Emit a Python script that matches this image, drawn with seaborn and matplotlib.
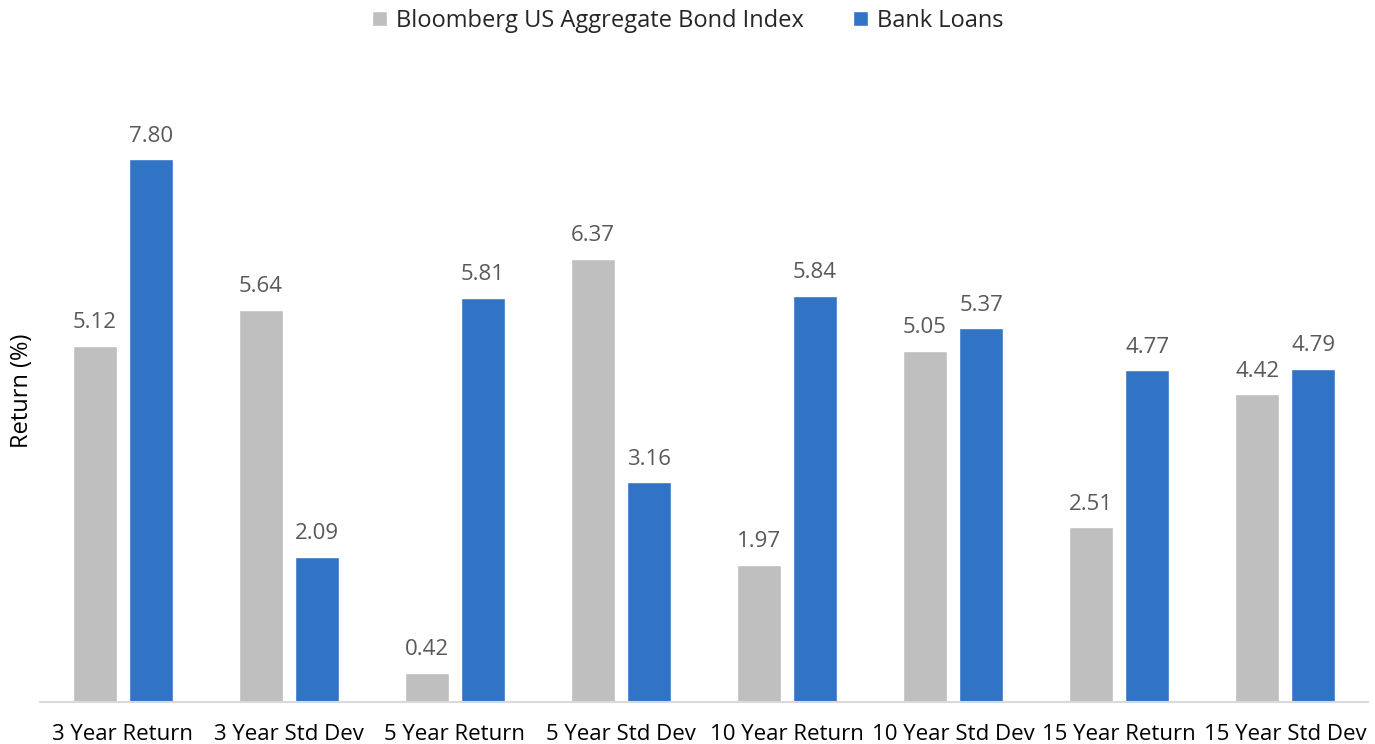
import pandas as pd
import matplotlib
matplotlib.use("Agg")
import matplotlib.pyplot as plt
import seaborn as sns

# Data
categories = ['3 Year Return', '3 Year Std Dev', '5 Year Return', '5 Year Std Dev',
              '10 Year Return', '10 Year Std Dev', '15 Year Return', '15 Year Std Dev']
bond_index = [5.12, 5.64, 0.42, 6.37, 1.97, 5.05, 2.51, 4.42]
bank_loans = [7.80, 2.09, 5.81, 3.16, 5.84, 5.37, 4.77, 4.79]
series_names = ['Bloomberg US Aggregate Bond Index', 'Bank Loans']

df = pd.DataFrame({
    'Category': categories * 2,
    'Series': [series_names[0]] * len(categories) + [series_names[1]] * len(categories),
    'Value': bond_index + bank_loans,
})

sns.set_style('white')
plt.rcParams['font.family'] = ['Open Sans', 'DejaVu Sans']

fig = plt.figure(figsize=(13.75, 7.44), dpi=100)
ax = fig.add_axes([0.029, 0.0565, 0.966, 0.836])

palette = {series_names[0]: '#BFBFBF', series_names[1]: '#3173C5'}
sns.barplot(data=df, x='Category', y='Value', hue='Series', palette=palette,
            width=0.675, gap=0.21, ax=ax, saturation=1)

# value labels
for container in ax.containers:
    ax.bar_label(container, fmt='%.2f', padding=9, fontsize=16, color='#595959')

ax.set_xlim(-0.5, 7.5)
ax.set_ylim(0, 8.94)
ax.set_yticks([])
ax.set_xlabel('')
ax.set_ylabel('Return (%)', fontsize=17, color='#000000', labelpad=4)
ax.tick_params(axis='x', length=0, labelsize=16, pad=16, colors='#000000')

for s in ['top', 'right', 'left']:
    ax.spines[s].set_visible(False)
ax.spines['bottom'].set_color('#D9D9D9')
ax.spines['bottom'].set_linewidth(1.5)

handles, labels = ax.get_legend_handles_labels()
ax.get_legend().remove()
fig.legend(handles, labels, loc='center', bbox_to_anchor=(0.5, 0.972), ncol=2,
           frameon=False, fontsize=17, handlelength=0.65, handleheight=0.65,
           handletextpad=0.35, columnspacing=2.1)

fig.savefig('out.png', dpi=100)
